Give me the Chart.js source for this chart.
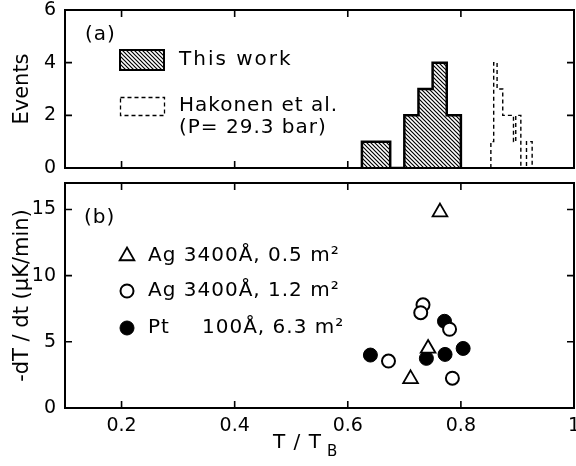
<!DOCTYPE html>
<html>
<head>
<meta charset="utf-8">
<script src="https://cdn.jsdelivr.net/npm/chart.js@4.4.0/dist/chart.umd.min.js"></script>
<style>
html, body { margin: 0; padding: 0; background: #fff; }
#wrap { position: relative; width: 576px; height: 466px; overflow: hidden; }
#c1 { position: absolute; left: 0; top: 0; }
#c2 { position: absolute; left: 0; top: 176px; }
</style>
</head>
<body>
<div id="wrap">
  <canvas id="c1" width="576" height="180"></canvas>
  <canvas id="c2" width="576" height="290"></canvas>
</div>
<script>
// (a) event histograms: bin edges in T/TB and counts per bin
var thisWorkEdges = [0.625, 0.65, 0.675, 0.7, 0.725, 0.75, 0.775, 0.8];
var thisWorkEvents = [1, 1, 0, 2, 3, 4, 2];
var hakonenEdges = [0.853, 0.858, 0.864, 0.874, 0.893, 0.897, 0.906, 0.916, 0.926];
var hakonenEvents = [1, 4, 3, 2, 1, 2, 0, 1];

// (b) cooling rate at the transition, -dT/dt in uK/min
var agThinT = [0.763, 0.742, 0.711];
var agThinRate = [14.8, 4.5, 2.2];
var agThickT = [0.733, 0.729, 0.780, 0.672, 0.785];
var agThickRate = [7.8, 7.2, 5.95, 3.55, 2.25];
var ptT = [0.640, 0.771, 0.739, 0.772, 0.804];
var ptRate = [4.0, 6.55, 3.75, 4.05, 4.5];

var xTicks = [0.2, 0.4, 0.6, 0.8, 1];
var yTicksTop = [0, 2, 4, 6];
var yTicksBottom = [0, 5, 10, 15];

Chart.defaults.font.family = "DejaVu Sans";
Chart.defaults.color = "#000";
Chart.defaults.animation = false;

function stepPoints(edges, counts) {
	var pts = [{x: edges[0], y: 0}];
	for (var i = 0; i < counts.length; i++) {
		pts.push({x: edges[i], y: counts[i]});
	}
	pts.push({x: edges[edges.length - 1], y: 0});
	return pts;
}

function pairs(xs, ys) {
	return xs.map(function(x, i){ return {x: x, y: ys[i]}; });
}

function hatch(ctx) {
	var c = document.createElement("canvas");
	c.width = 4; c.height = 4;
	var g = c.getContext("2d");
	g.strokeStyle = "#000";
	g.lineWidth = 1.2;
	g.beginPath();
	g.moveTo(-1, -1); g.lineTo(5, 5);
	g.moveTo(-1, 3); g.lineTo(1, 5);
	g.moveTo(3, -1); g.lineTo(5, 1);
	g.stroke();
	return ctx.createPattern(c, "repeat");
}

function setTicks(list) {
	return function(scale){
		scale.ticks = list.map(function(v){ return {value: v}; });
	};
}

// fixed box sizes, and no inset for overhanging labels
function fixWidth(w) {
	return function(s){ s.width = w; s.paddingTop = 0; s.paddingBottom = 0; s.paddingLeft = 0; s.paddingRight = 0; };
}
function fixHeight(h) {
	return function(s){ s.height = h; s.paddingTop = 0; s.paddingBottom = 0; s.paddingLeft = 0; s.paddingRight = 0; };
}

// box round the plot with short ticks pointing inwards
function makeFrame(yTicks, annotate) {
	return {
		id: "frame",
		afterDatasetsDraw: function(chart) {
			var ctx = chart.ctx, a = chart.chartArea;
			var xs = chart.scales.x, ys = chart.scales.y;
			ctx.save();
			ctx.strokeStyle = "#000";
			ctx.lineWidth = 2;
			ctx.strokeRect(a.left, a.top, a.right - a.left, a.bottom - a.top);
			ctx.lineWidth = 1.6;
			ctx.beginPath();
			xTicks.forEach(function(v){
				if (v >= xs.max) return;
				var px = xs.getPixelForValue(v);
				ctx.moveTo(px, a.top); ctx.lineTo(px, a.top + 7);
				ctx.moveTo(px, a.bottom); ctx.lineTo(px, a.bottom - 7);
			});
			yTicks.forEach(function(v){
				if (v <= ys.min || v >= ys.max) return;
				var py = ys.getPixelForValue(v);
				ctx.moveTo(a.left, py); ctx.lineTo(a.left + 7, py);
				ctx.moveTo(a.right, py); ctx.lineTo(a.right - 7, py);
			});
			ctx.stroke();
			ctx.restore();
		},
		afterDraw: function(chart) {
			var ctx = chart.ctx;
			ctx.save();
			ctx.fillStyle = "#000";
			ctx.strokeStyle = "#000";
			ctx.textBaseline = "middle";
			ctx.textAlign = "left";
			annotate(ctx, chart);
			ctx.restore();
		}
	};
}

var ctx1 = document.getElementById("c1").getContext("2d");
var hatchFill = hatch(ctx1);

new Chart(ctx1, {
	type: "scatter",
	data: {
		datasets: [{
			label: "This work",
			data: stepPoints(thisWorkEdges, thisWorkEvents),
			showLine: true,
			stepped: true,
			fill: "origin",
			backgroundColor: hatchFill,
			borderColor: "#000",
			borderWidth: 2.5,
			pointRadius: 0
		}, {
			label: "Hakonen et al.",
			data: stepPoints(hakonenEdges, hakonenEvents),
			showLine: true,
			stepped: true,
			fill: false,
			borderColor: "#000",
			borderWidth: 1.4,
			borderDash: [4, 3],
			pointRadius: 0
		}]
	},
	options: {
		responsive: false,
		layout: { autoPadding: false, padding: { left: 0, right: 2, top: 10, bottom: 0 } },
		plugins: { legend: { display: false }, tooltip: { enabled: false } },
		scales: {
			x: {
				type: "linear", min: 0.1, max: 1,
				grid: { display: false }, border: { display: false },
				ticks: { display: false },
				afterBuildTicks: setTicks(xTicks),
				afterFit: fixHeight(12)
			},
			y: {
				min: 0, max: 6,
				grid: { display: false, drawTicks: false }, border: { display: false },
				ticks: { font: { size: 19 }, padding: 9 },
				afterBuildTicks: setTicks(yTicksTop),
				title: { display: true, text: "Events", font: { size: 21 }, padding: { top: 10, bottom: 0 } },
				afterFit: fixWidth(65)
			}
		}
	},
	plugins: [makeFrame(yTicksTop, function(ctx){
		ctx.font = "20px 'DejaVu Sans'";
		ctx.letterSpacing = "1px";
		ctx.fillText("(a)", 85, 35);
		ctx.fillStyle = hatchFill;
		ctx.fillRect(120, 50, 44, 20);
		ctx.lineWidth = 2;
		ctx.strokeRect(120, 50, 44, 20);
		ctx.fillStyle = "#000";
		ctx.letterSpacing = "2px";
		ctx.fillText("This work", 179, 60);
		ctx.letterSpacing = "1px";
		ctx.lineWidth = 1.3;
		ctx.setLineDash([4, 3]);
		ctx.strokeRect(120.5, 97.5, 44, 18);
		ctx.setLineDash([]);
		ctx.fillText("Hakonen et al.", 179, 106);
		ctx.fillText("(P= 29.3 bar)", 179, 128);
	})]
});

var ctx2 = document.getElementById("c2").getContext("2d");

new Chart(ctx2, {
	type: "scatter",
	data: {
		datasets: [{
			label: "Ag 3400 Å, 0.5 m²",
			data: pairs(agThinT, agThinRate),
			pointStyle: "triangle",
			pointRadius: 8.5,
			pointBorderWidth: 1.8,
			pointBackgroundColor: "#fff",
			pointBorderColor: "#000"
		}, {
			label: "Ag 3400 Å, 1.2 m²",
			data: pairs(agThickT, agThickRate),
			pointStyle: "circle",
			pointRadius: 6.5,
			pointBorderWidth: 2,
			pointBackgroundColor: "#fff",
			pointBorderColor: "#000"
		}, {
			label: "Pt 100 Å, 6.3 m²",
			data: pairs(ptT, ptRate),
			pointStyle: "circle",
			pointRadius: 7,
			pointBorderWidth: 1,
			pointBackgroundColor: "#000",
			pointBorderColor: "#000"
		}]
	},
	options: {
		responsive: false,
		layout: { autoPadding: false, padding: { left: 0, right: 2, top: 7, bottom: 0 } },
		plugins: { legend: { display: false }, tooltip: { enabled: false } },
		scales: {
			x: {
				type: "linear", min: 0.1, max: 1,
				grid: { display: false, drawTicks: false }, border: { display: false },
				ticks: { font: { size: 19 }, padding: 7, maxRotation: 0,
					callback: function(v){ return v === 1 ? "1" : v.toFixed(1); } },
				afterBuildTicks: setTicks(xTicks),
				afterFit: fixHeight(58)
			},
			y: {
				min: 0, max: 17,
				grid: { display: false, drawTicks: false }, border: { display: false },
				ticks: { font: { size: 19 }, padding: 9 },
				afterBuildTicks: setTicks(yTicksBottom),
				title: { display: true, text: "-dT / dt (μK/min)", font: { size: 21 }, padding: { top: 10, bottom: 0 } },
				afterFit: fixWidth(65)
			}
		}
	},
	plugins: [makeFrame(yTicksBottom, function(ctx){
		var draw = Chart.helpers.drawPoint;
		ctx.font = "20px 'DejaVu Sans'";
		ctx.letterSpacing = "1px";
		ctx.fillText("(b)", 84, 42);
		ctx.lineWidth = 1.8;
		ctx.fillStyle = "#fff";
		draw(ctx, { pointStyle: "triangle", radius: 8.5, borderWidth: 1.8 }, 127, 80);
		ctx.lineWidth = 2;
		draw(ctx, { pointStyle: "circle", radius: 6.5, borderWidth: 2 }, 127, 115);
		ctx.fillStyle = "#000";
		ctx.lineWidth = 1;
		draw(ctx, { pointStyle: "circle", radius: 7, borderWidth: 1 }, 127, 152);
		ctx.fillText("Ag 3400Å, 0.5 m²", 148, 80);
		ctx.fillText("Ag 3400Å, 1.2 m²", 148, 115);
		ctx.fillText("Pt", 148, 152);
		ctx.fillText("100Å, 6.3 m²", 202, 152);
		ctx.fillText("T / T", 273, 267);
		ctx.font = "15px 'DejaVu Sans'";
		ctx.fillText("B", 327, 276);
	})]
});
</script>
</body>
</html>
